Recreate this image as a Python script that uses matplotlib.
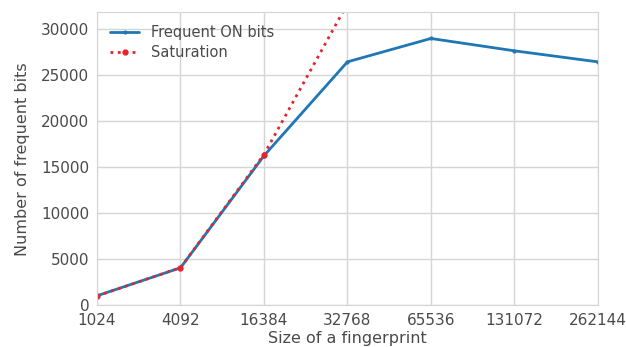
import numpy as np
import matplotlib
matplotlib.use('Agg')
import matplotlib.pyplot as plt
import seaborn as sns

sns.set_style('whitegrid')
plt.rcParams['font.family'] = ['DejaVu Sans']

# data
sizes = ['1024', '4092', '16384', '32768', '65536', '131072', '262144']
frequent_bits = [1040, 4080, 16250, 26450, 28990, 27650, 26450]
saturation = [1024, 4092, 16384, 32768, 65536, 131072, 262144]

pos = np.arange(len(sizes))

fig, ax = plt.subplots(figsize=(6.26, 3.47), dpi=100)
ax.plot(pos, frequent_bits, '-', marker='.', markersize=4, lw=2,
        color='#1f77b4', label='Frequent ON bits')
ax.plot(pos, saturation, ':', marker='.', markersize=7, lw=2,
        color='#e8232a', label='Saturation')

ax.set_xlim(0, len(sizes) - 1)
ax.set_ylim(0, 31850)
ax.set_xticks(pos)
ax.set_xticklabels(sizes)
ax.set_yticks([0, 5000, 10000, 15000, 20000, 25000, 30000])
ax.tick_params(labelsize=11, colors='#4a4a4a', pad=2)
ax.set_xlabel('Size of a fingerprint', fontsize=11.5, color='#4a4a4a', labelpad=2)
ax.set_ylabel('Number of frequent bits', fontsize=11.5, color='#4a4a4a', labelpad=8)
for s in ax.spines.values():
    s.set_color('#d5d5d5')
ax.grid(True, color='#d5d5d5', lw=1)

leg = ax.legend(loc='upper left', frameon=False, fontsize=10.5, labelspacing=0.3)
for t in leg.get_texts():
    t.set_color('#4a4a4a')

fig.subplots_adjust(left=0.155, right=0.955, top=0.965, bottom=0.12)
fig.savefig('out.png', dpi=100)
